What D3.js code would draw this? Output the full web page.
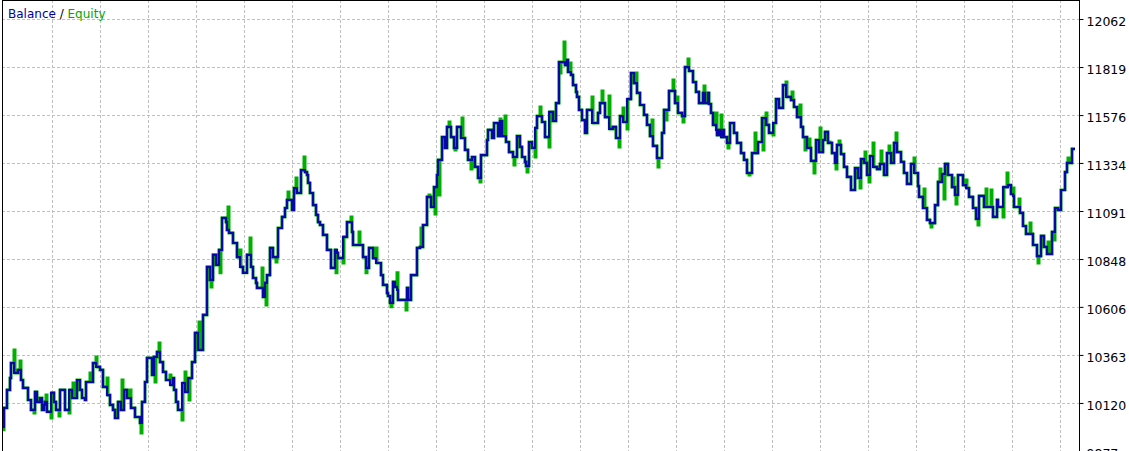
<!DOCTYPE html>
<html>
<head>
<meta charset="utf-8">
<script src="https://cdn.jsdelivr.net/npm/d3@7"></script>
<style>
    html, body { margin: 0; padding: 0; background: #fff; }
    svg { display: block; }
</style>
</head>
<body>
<div id="chart"></div>
<script>
// deal number at which the balance changes, and the balance after that deal
const deals = [0,1,4,7,8,11,15,18,20,25,28,32,34,37,39,41,42,44,48,51,53,57,62,66,69,74,77,79,82,83,
    90,93,97,100,104,107,110,112,115,118,121,124,128,132,137,139,142,144,149,151,154,157,160,163,167,170,171,173,175,179,
    182,185,189,192,195,200,204,207,210,213,216,219,223,224,226,230,234,237,240,244,248,250,253,254,260,262,264,267,270,275,
    279,282,284,289,291,294,298,302,304,305,307,310,313,315,317,320,324,328,332,334,335,340,344,349,350,360,363,366,370,373,
    378,380,384,385,387,390,392,394,395,404,405,408,414,417,420,424,428,431,434,435,439,442,444,448,451,454,458,462,465,469,
    472,475,478,484,485,489,491,495,497,499,503,506,510,514,517,519,522,523,526,529,532,534,539,542,546,550,553,556,562,564,
    565,568,570,573,574,576,579,582,584,589,595,597,602,606,610,613,617,620,624,628,631,634,637,641,644,647,650,654,659,661,
    666,672,675,679,682,686,690,693,696,700,702,705,706,708,710,713,714,716,718,720,721,724,727,731,734,738,741,744,749,755,
    759,763,766,770,773,776,780,783,788,791,794,798,800,804,808,813,816,820,822,825,829,832,834,838,841,844,848,852,855,858,
    861,864,867,870,874,877,881,884,888,891,894,898,901,904,908,911,915,916,920,924,927,932,935,939,942,945,949,952,955,960,
    963,966,970,973,976,981,990,994,995,1000,1005,1008,1010,1011,1017,1020,1023,1030,1034,1038,1041,1044,1049,1052,1055,1058,1062,1064,1069,1072];

const balance = [9999,10095,10186,10246,10322,10272,10287,10236,10196,10135,10085,10176,10125,10145,10085,10110,10125,10075,10171,10125,
    10085,10186,10085,10186,10145,10236,10186,10145,10135,10226,10322,10302,10287,10201,10160,10110,10085,10044,10125,10085,
    10186,10145,10095,10049,10019,10125,10226,10348,10262,10353,10378,10327,10277,10236,10211,10246,10186,10125,10085,10221,
    10176,10246,10327,10474,10388,10565,10808,10742,10869,10818,10894,11056,11035,10995,10980,10929,10858,10808,10778,10869,
    10808,10752,10727,10702,10656,10727,10767,10904,10858,11005,11061,11106,11147,11096,11207,11182,11298,11288,11273,11233,
    11182,11121,11071,11035,11020,10970,10894,10803,10894,10879,10853,10960,11035,10985,10919,10858,10803,10904,10853,10828,
    10767,10717,10676,10661,10626,10732,10707,10692,10641,10702,10641,10767,10904,10909,11020,11162,11111,11212,11273,11349,
    11465,11410,11516,11465,11410,11516,11460,11400,11349,11364,11314,11258,11374,11450,11501,11460,11536,11470,11546,11470,
    11440,11389,11364,11470,11415,11364,11339,11319,11440,11410,11511,11571,11541,11465,11592,11546,11637,11844,11829,11855,
    11794,11779,11728,11693,11668,11602,11551,11486,11602,11536,11587,11637,11566,11506,11516,11460,11571,11541,11657,11789,
    11738,11688,11627,11577,11526,11470,11420,11359,11486,11602,11698,11637,11587,11571,11819,11799,11743,11693,11637,11688,
    11637,11688,11632,11587,11526,11501,11475,11501,11465,11501,11465,11435,11536,11486,11435,11384,11349,11283,11384,11440,
    11561,11526,11486,11536,11657,11612,11728,11668,11652,11617,11566,11516,11465,11410,11344,11450,11389,11450,11491,11435,
    11384,11334,11425,11379,11314,11263,11197,11308,11258,11354,11334,11273,11369,11314,11303,11329,11273,11384,11334,11435,
    11389,11339,11283,11228,11329,11283,11217,11162,11106,11046,11030,11121,11238,11278,11329,11273,11212,11172,11273,11222,
    11207,11162,11106,11051,11167,11111,11061,11147,11111,11212,11222,11177,11167,11111,11081,11015,10975,10919,10863,10965,
    10909,10874,10985,11106,11096,11197,11288,11334,11405,11405];

// floating equity extremes while trades were open
const spikeDeals = [0,11,17,31,43,48,56,66,70,87,93,99,104,119,127,138,152,156,167,179,182,186,196,208,217,225,237,247,259,263,
    273,285,293,301,333,340,348,356,363,373,388,394,403,418,426,432,436,446,452,459,468,477,497,502,511,524,532,537,546,557,
    561,567,589,599,606,616,620,624,633,649,655,663,670,674,680,685,701,713,718,725,746,752,760,763,770,783,789,797,802,806,
    811,817,826,833,836,857,862,866,870,878,886,893,911,921,928,937,941,950,953,963,975,983,988,1000,1004,1010,1016,1027,1035,
    1045,1051,1065];
const spikeEquity = [9984,10388,10332,10069,10160,10044,10054,10069,10221,10272,10353,10287,10246,10236,10186,9968,10226,10423,10262,10034,
    10277,10135,10530,10707,10778,11111,10894,10954,10803,10616,10833,11187,11258,11364,10778,10828,11061,10985,10778,10904,
    10606,10778,10590,11005,11172,11076,11172,11541,11400,11561,11303,11238,11556,11571,11324,11288,11364,11617,11415,11789,
    11946,11840,11668,11698,11673,11415,11612,11506,11789,11551,11314,11551,11754,11668,11541,11860,11723,11587,11577,11410,
    11273,11486,11400,11587,11475,11743,11693,11627,11400,11455,11283,11511,11440,11303,11445,11207,11389,11238,11435,11394,
    11420,11486,11359,11202,11010,11303,11152,11258,11126,11248,11020,11202,11197,11061,11283,11207,11152,11030,10828,10934,
    10944,11359];

const tickLabels = [12062, 11819, 11576, 11334, 11091, 10848, 10606, 10363, 10120, 9877];

function getSize() {
    return { width: 1129, height: 451 };
}

function getFrame() {
    return {
        left: 2,
        right: 1079,
        top: 0,
        plotLeft: 3,
        plotRight: 1075,
        plotTop: 19,
        plotBottom: 451
    };
}

function layout() {
    const size = getSize();
    const svg = d3.select('#chart')
        .append('svg')
        .attr('width', size.width)
        .attr('height', size.height);

    svg.append('rect')
        .attr('width', size.width)
        .attr('height', size.height)
        .attr('fill', '#fff');

    return svg;
}

function makeScales() {
    const f = getFrame();
    const x = d3.scaleLinear()
        .domain([0, d3.max(deals)])
        .range([f.plotLeft, f.plotRight]);
    const y = d3.scaleLinear()
        .domain([d3.min(tickLabels), d3.max(tickLabels)])
        .range([f.plotBottom, f.plotTop]);
    return { x, y };
}

function drawGrid(svg, scales) {
    const f = getFrame();
    const size = getSize();
    const g = svg.append('g')
        .attr('stroke', '#c0c0c0')
        .attr('stroke-dasharray', '3,2')
        .attr('shape-rendering', 'crispEdges');

    //horizontal lines on the ticks
    g.selectAll('line.h')
        .data(tickLabels)
        .join('line')
        .attr('class', 'h')
        .attr('x1', f.left)
        .attr('x2', f.right)
        .attr('y1', d => Math.round(scales.y(d)) + 0.5)
        .attr('y2', d => Math.round(scales.y(d)) + 0.5);

    //vertical lines every 48px
    g.selectAll('line.v')
        .data(d3.range(f.left + 50, f.right, 48))
        .join('line')
        .attr('class', 'v')
        .attr('x1', d => d + 0.5)
        .attr('x2', d => d + 0.5)
        .attr('y1', f.top)
        .attr('y2', size.height);
}

function drawSeries(svg, scales) {
    const bisect = d3.bisector(d => d).right;
    const balanceAt = t => balance[Math.max(0, bisect(deals, t) - 1)];

    //equity follows balance except where a spike is open
    const spikeWidth = 1;
    const equity = d3.range(0, d3.max(deals) + 1).map(t => {
        let v = balanceAt(t);
        spikeDeals.forEach((d, i) => {
            if (t >= d && t < d + spikeWidth) v = spikeEquity[i];
        });
        return [t, v];
    });

    const line = d3.line()
        .x(d => scales.x(d[0]))
        .y(d => scales.y(d[1]))
        .curve(d3.curveStepAfter);

    svg.append('path')
        .datum(equity)
        .attr('d', line)
        .attr('fill', 'none')
        .attr('stroke', '#00b000')
        .attr('stroke-width', 3);

    svg.append('path')
        .datum(deals.map((d, i) => [d, balance[i]]))
        .attr('d', line)
        .attr('fill', 'none')
        .attr('stroke', '#0808a8')
        .attr('stroke-width', 2.2);
}

function drawFrame(svg, scales) {
    const f = getFrame();
    const size = getSize();

    const axis = d3.axisRight(scales.y)
        .tickValues(tickLabels)
        .tickSize(4)
        .tickPadding(3)
        .tickFormat(d3.format('d'));

    const g = svg.append('g')
        .attr('transform', `translate(${f.right + 0.5},0)`)
        .call(axis);
    g.select('.domain').remove();
    g.selectAll('line').attr('stroke', '#000');
    g.selectAll('text')
        .attr('dy', '0.5em')
        .style('font-family', '"DejaVu Sans", sans-serif')
        .style('font-size', '12.5px')
        .style('fill', '#000');

    //border
    svg.append('path')
        .attr('d', `M${f.left + 0.5},${size.height}V${f.top + 0.5}H${f.right + 0.5}V${size.height}`)
        .attr('fill', 'none')
        .attr('stroke', '#000')
        .attr('shape-rendering', 'crispEdges');

    //legend
    const legend = svg.append('text')
        .attr('x', 8)
        .attr('y', 18)
        .style('font-family', '"DejaVu Sans", sans-serif')
        .style('font-size', '12px');
    legend.append('tspan').attr('fill', '#0000a0').text('Balance');
    legend.append('tspan').attr('fill', '#000').text(' / ');
    legend.append('tspan').attr('fill', '#00a800').text('Equity');
}

const svg = layout();
const scales = makeScales();
drawGrid(svg, scales);
drawSeries(svg, scales);
drawFrame(svg, scales);
</script>
</body>
</html>
